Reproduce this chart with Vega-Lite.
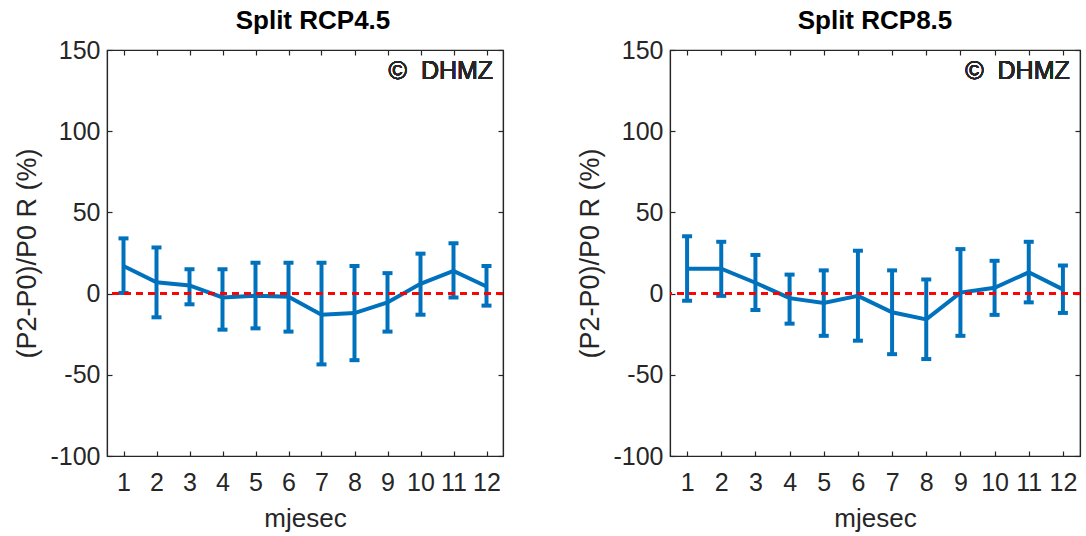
{
  "$schema": "https://vega.github.io/schema/vega-lite/v6.json",
  "background": "white",
  "padding": {"left": 13, "top": 7, "right": 3, "bottom": 3},
  "config": {
    "view": {"stroke": "#262626", "strokeWidth": 1.2},
    "font": "Liberation Sans",
    "title": {"fontSize": 26, "font": "Liberation Sans", "fontWeight": "bold", "color": "#000000", "offset": 0},
    "axis": {"grid": false, "domainColor": "#262626", "tickColor": "#262626", "labelColor": "#262626", "titleColor": "#262626", "labelFont": "Liberation Sans", "titleFont": "Liberation Sans", "labelFontSize": 25, "titleFontSize": 26, "titleFontWeight": "normal", "tickSize": -5, "domainWidth": 1.2, "tickWidth": 1.2, "labelOverlap": false, "labelExpr": "replace(datum.label, '−', '-')"}
  },
  "spacing": 167,
  "bounds": "flush",
  "hconcat": [
    {
      "width": 396,
      "height": 406,
      "title": {"text": "Split RCP4.5", "dx": 8},
      "data": {"values": [
        {"month": 1, "mean": 17, "lo": 0.4, "hi": 34},
        {"month": 2, "mean": 7, "lo": -14.6, "hi": 28.4},
        {"month": 3, "mean": 5, "lo": -6.6, "hi": 15},
        {"month": 4, "mean": -2.4, "lo": -22.2, "hi": 15},
        {"month": 5, "mean": -1.4, "lo": -21.4, "hi": 19},
        {"month": 6, "mean": -2, "lo": -23.4, "hi": 19},
        {"month": 7, "mean": -13, "lo": -43.6, "hi": 19},
        {"month": 8, "mean": -12, "lo": -41, "hi": 17},
        {"month": 9, "mean": -5.4, "lo": -23.4, "hi": 12.6},
        {"month": 10, "mean": 6, "lo": -13, "hi": 24.6},
        {"month": 11, "mean": 14, "lo": -2.4, "hi": 31},
        {"month": 12, "mean": 4.4, "lo": -7.4, "hi": 17}
      ]},
      "layer": [
        {
          "layer": [
            {"mark": {"type": "rule", "color": "#0072BD", "strokeWidth": 4},
             "encoding": {
               "x": {"field": "month", "type": "quantitative", "scale": {"domain": [0.5, 12.5], "nice": false, "zero": false}, "axis": {"orient": "bottom", "values": [1,2,3,4,5,6,7,8,9,10,11,12], "tickCount": 20, "format": "d", "title": "mjesec", "labelPadding": 19, "titlePadding": 10, "labelFlush": false, "labelOverlap": false}},
               "y": {"field": "lo", "type": "quantitative", "scale": {"domain": [-100, 150], "nice": false, "zero": false}, "axis": {"orient": "left", "values": [-100,-50,0,50,100,150], "tickCount": 20, "format": "d", "title": "(P2-P0)/P0 R (%)", "titleFontSize": 27, "labelPadding": 12, "titlePadding": 8, "labelFlush": false, "labelOverlap": false}},
               "y2": {"field": "hi"}
             }},
            {"mark": {"type": "tick", "orient": "horizontal", "size": 10, "thickness": 4, "color": "#0072BD", "opacity": 1},
             "encoding": {"x": {"field": "month", "type": "quantitative"}, "y": {"field": "hi", "type": "quantitative"}}},
            {"mark": {"type": "tick", "orient": "horizontal", "size": 10, "thickness": 4, "color": "#0072BD", "opacity": 1},
             "encoding": {"x": {"field": "month", "type": "quantitative"}, "y": {"field": "lo", "type": "quantitative"}}},
            {"mark": {"type": "line", "color": "#0072BD", "strokeWidth": 4},
             "encoding": {"x": {"field": "month", "type": "quantitative"}, "y": {"field": "mean", "type": "quantitative"}}},
            {"mark": {"type": "rule", "color": "#FF0000", "strokeDash": [7, 5], "strokeWidth": 1.5},
             "encoding": {"y": {"datum": 0, "type": "quantitative"}}},
            {"mark": {"type": "text", "align": "right", "baseline": "middle", "fontSize": 25, "font": "Liberation Sans", "color": "#262626"},
             "encoding": {"x": {"datum": 12.2, "type": "quantitative"}, "y": {"datum": 137, "type": "quantitative"}, "text": {"value": "©\u00a0\u00a0DHMZ"}}}
          ]
        },
        {"mark": {"type": "point", "opacity": 0},
         "encoding": {
           "x": {"field": "month", "type": "quantitative", "scale": {"domain": [0.5, 12.5], "nice": false, "zero": false}, "axis": {"orient": "top", "values": [1,2,3,4,5,6,7,8,9,10,11,12], "tickCount": 20, "labels": false, "title": null}},
           "y": {"field": "mean", "type": "quantitative", "scale": {"domain": [-100, 150], "nice": false, "zero": false}, "axis": {"orient": "right", "values": [-100,-50,0,50,100,150], "tickCount": 20, "labels": false, "title": null}}
         }}
      ],
      "resolve": {"scale": {"x": "independent", "y": "independent"}}
    },
    {
      "width": 410,
      "height": 406,
      "title": "Split RCP8.5",
      "data": {"values": [
        {"month": 1, "mean": 15.3, "lo": -4.4, "hi": 35.3},
        {"month": 2, "mean": 15.3, "lo": -1.4, "hi": 31.9},
        {"month": 3, "mean": 6.7, "lo": -10.1, "hi": 23.8},
        {"month": 4, "mean": -2.8, "lo": -18.5, "hi": 11.7},
        {"month": 5, "mean": -5.8, "lo": -26, "hi": 14.3},
        {"month": 6, "mean": -1.4, "lo": -29, "hi": 26.4},
        {"month": 7, "mean": -11.5, "lo": -37.3, "hi": 14.3},
        {"month": 8, "mean": -15.9, "lo": -40.3, "hi": 8.7},
        {"month": 9, "mean": 0.6, "lo": -26, "hi": 27.4},
        {"month": 10, "mean": 3.6, "lo": -13.1, "hi": 20.2},
        {"month": 11, "mean": 13.1, "lo": -5.4, "hi": 31.9},
        {"month": 12, "mean": 2.6, "lo": -11.9, "hi": 17.3}
      ]},
      "layer": [
        {
          "layer": [
            {"mark": {"type": "rule", "color": "#0072BD", "strokeWidth": 4},
             "encoding": {
               "x": {"field": "month", "type": "quantitative", "scale": {"domain": [0.5, 12.5], "nice": false, "zero": false}, "axis": {"orient": "bottom", "values": [1,2,3,4,5,6,7,8,9,10,11,12], "tickCount": 20, "format": "d", "title": "mjesec", "labelPadding": 19, "titlePadding": 10, "labelFlush": false, "labelOverlap": false}},
               "y": {"field": "lo", "type": "quantitative", "scale": {"domain": [-100, 150], "nice": false, "zero": false}, "axis": {"orient": "left", "values": [-100,-50,0,50,100,150], "tickCount": 20, "format": "d", "title": "(P2-P0)/P0 R (%)", "titleFontSize": 27, "labelPadding": 12, "titlePadding": 8, "labelFlush": false, "labelOverlap": false}},
               "y2": {"field": "hi"}
             }},
            {"mark": {"type": "tick", "orient": "horizontal", "size": 10, "thickness": 4, "color": "#0072BD", "opacity": 1},
             "encoding": {"x": {"field": "month", "type": "quantitative"}, "y": {"field": "hi", "type": "quantitative"}}},
            {"mark": {"type": "tick", "orient": "horizontal", "size": 10, "thickness": 4, "color": "#0072BD", "opacity": 1},
             "encoding": {"x": {"field": "month", "type": "quantitative"}, "y": {"field": "lo", "type": "quantitative"}}},
            {"mark": {"type": "line", "color": "#0072BD", "strokeWidth": 4},
             "encoding": {"x": {"field": "month", "type": "quantitative"}, "y": {"field": "mean", "type": "quantitative"}}},
            {"mark": {"type": "rule", "color": "#FF0000", "strokeDash": [7, 5], "strokeWidth": 1.5},
             "encoding": {"y": {"datum": 0, "type": "quantitative"}}},
            {"mark": {"type": "text", "align": "right", "baseline": "middle", "fontSize": 25, "font": "Liberation Sans", "color": "#262626"},
             "encoding": {"x": {"datum": 12.2, "type": "quantitative"}, "y": {"datum": 137, "type": "quantitative"}, "text": {"value": "©\u00a0\u00a0DHMZ"}}}
          ]
        },
        {"mark": {"type": "point", "opacity": 0},
         "encoding": {
           "x": {"field": "month", "type": "quantitative", "scale": {"domain": [0.5, 12.5], "nice": false, "zero": false}, "axis": {"orient": "top", "values": [1,2,3,4,5,6,7,8,9,10,11,12], "tickCount": 20, "labels": false, "title": null}},
           "y": {"field": "mean", "type": "quantitative", "scale": {"domain": [-100, 150], "nice": false, "zero": false}, "axis": {"orient": "right", "values": [-100,-50,0,50,100,150], "tickCount": 20, "labels": false, "title": null}}
         }}
      ],
      "resolve": {"scale": {"x": "independent", "y": "independent"}}
    }
  ]
}
